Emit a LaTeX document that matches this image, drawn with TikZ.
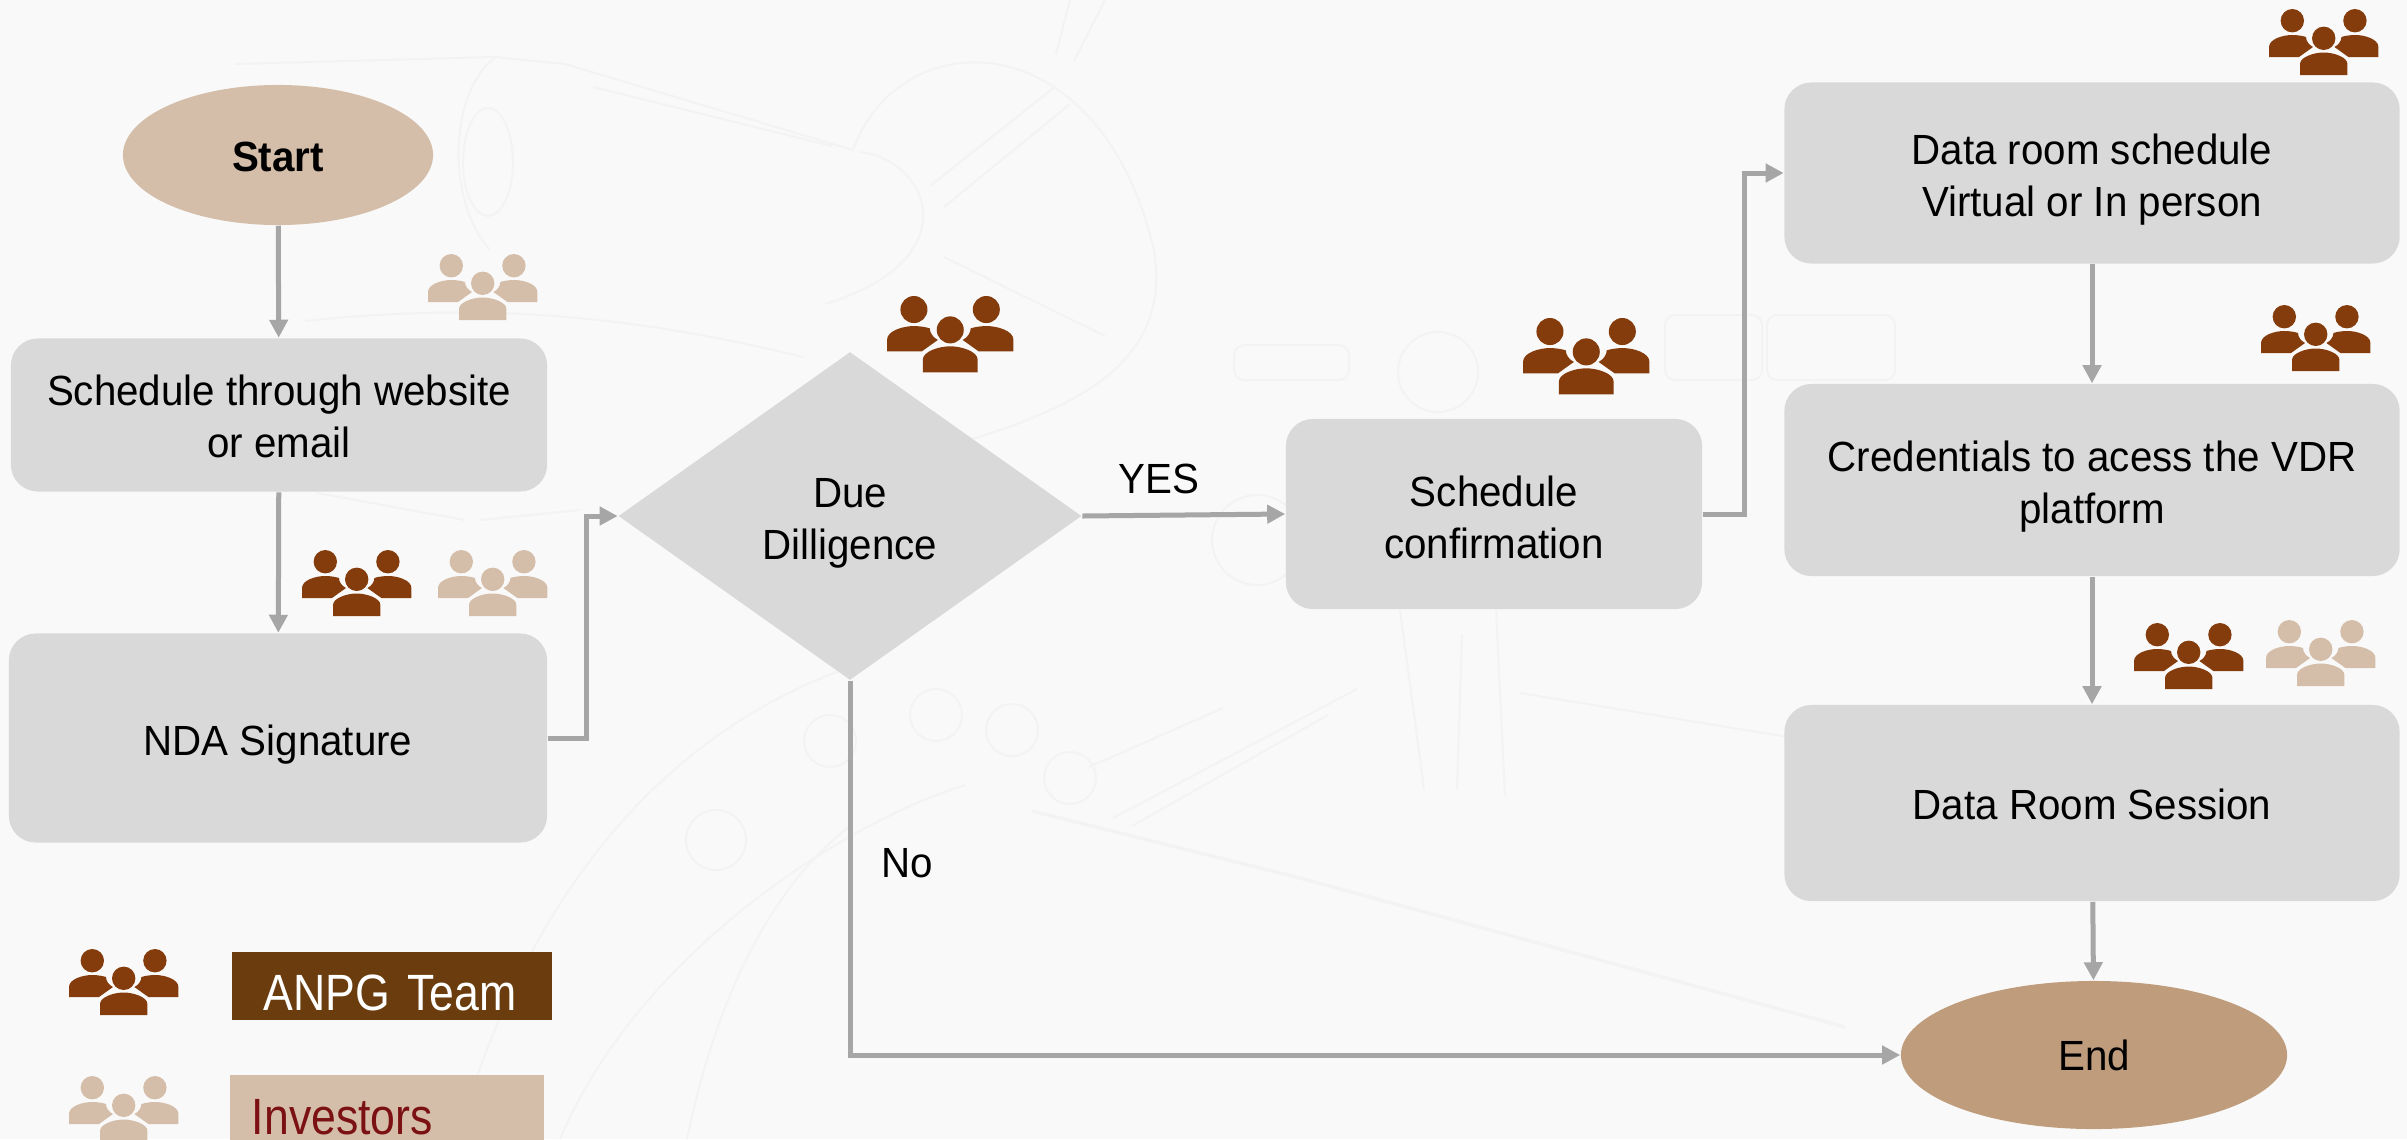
\documentclass[tikz,border=0pt]{standalone}
\usepackage{fontspec}
\setmainfont[FakeStretch=0.955]{Liberation Sans}
\newfontfamily\legendfont[FakeStretch=0.875]{Liberation Sans}
\usetikzlibrary{shapes.geometric,arrows.meta}

\definecolor{pagebg}{HTML}{F9F9F9}
\definecolor{sketchgrey}{HTML}{F3F3F3}
\definecolor{boxgrey}{HTML}{D9D9D9}
\definecolor{linegrey}{HTML}{A6A6A6}
\definecolor{anpgbrown}{HTML}{843C0C}
\definecolor{anpgrect}{HTML}{6B3D0E}
\definecolor{investortan}{HTML}{D5BEA9}
\definecolor{endtan}{HTML}{BE9C7C}
\definecolor{investorred}{HTML}{7B1113}

\tikzset{
  stepbox/.style={rectangle,rounded corners=0.27cm,fill=boxgrey,align=center,font=\fontsize{12}{14.8}\selectfont},
  flow/.style={draw=linegrey,line width=0.05cm,-{Triangle[length=0.18cm,width=0.18cm]}},
  sketch/.style={draw=sketchgrey,line width=0.02cm},
  people/.pic={
    \path[pic actions] (23.3,11.7) circle[radius=11.7] (85.9,11.7) circle[radius=11.7] (54.7,29.3) circle[radius=11.7];
    \path[pic actions] (0,48) -- (0,38) .. controls (0,30) and (14,26) .. (23,26) .. controls (29,26) and (34,27) .. (37,28) .. controls (37,32) and (40,36) .. (44,38) -- (30,48) -- cycle;
    \path[pic actions] (109.4,48) -- (109.4,38) .. controls (109.4,30) and (95.4,26) .. (86.4,26) .. controls (80.4,26) and (75.4,27) .. (72.4,28) .. controls (72.4,32) and (69.4,36) .. (65.4,38) -- (79.4,48) -- cycle;
    \path[pic actions] (31,66) -- (31,55) .. controls (31,48) and (45,43.5) .. (54.7,43.5) .. controls (64.4,43.5) and (78.4,48) .. (78.4,55) -- (78.4,66) -- cycle;
  }
}

\begin{document}
\begin{tikzpicture}[x=0.01cm,y=-0.01cm]
  \clip (0,0) rectangle (2407,1139);
  \fill[pagebg] (0,0) rectangle (2407,1139);

  % faint drawing behind the chart
  \draw[sketch] (495,58) .. controls (450,90) and (445,200) .. (490,250);
  \draw[sketch] (488,162) circle[x radius=25,y radius=54];
  \draw[sketch] (235,64) -- (495,57) -- (565,64) -- (853,150);
  \draw[sketch] (593,87) -- (832,146);
  \draw[sketch] (853,150) .. controls (900,20) and (1100,20) .. (1154,250) .. controls (1170,350) and (1100,400) .. (972,439);
  \draw[sketch] (930,186) -- (1056,86);
  \draw[sketch] (944,207) -- (1070,104);
  \draw[sketch] (860,152) .. controls (930,160) and (970,260) .. (825,304);
  \draw[sketch] (944,257) -- (1105,336);
  \draw[sketch] (305,321) .. controls (500,300) and (650,320) .. (803,357);
  \draw[sketch] (317,493) -- (465,520);
  \draw[sketch] (480,520) -- (580,510);
  \draw[sketch] (1070,0) -- (1056,54);
  \draw[sketch] (1105,0) -- (1074,61);
  \draw[sketch] (850,667) .. controls (700,720) and (540,850) .. (457,1139);
  \draw[sketch] (850,826) .. controls (780,880) and (720,980) .. (687,1139);
  \draw[sketch] (965,785) .. controls (850,820) and (640,950) .. (560,1139);
  \draw[sketch] (716,840) circle[radius=30] (936,715) circle[radius=26] (1012,730) circle[radius=26] (830,741) circle[radius=26] (1070,778) circle[radius=26];
  \draw[sketch] (1257,540) circle[radius=45] (1438,372) circle[radius=40];
  \draw[sketch,rounded corners=0.1cm] (1234,345) rectangle (1349,380);
  \draw[sketch,rounded corners=0.1cm] (1665,315) rectangle (1762,380);
  \draw[sketch,rounded corners=0.1cm] (1767,315) rectangle (1895,380);
  \draw[sketch] (1400,610) -- (1424,789);
  \draw[sketch] (1496,610) -- (1505,796);
  \draw[sketch] (1462,634) -- (1457,789);
  \draw[sketch] (1089,767) -- (1223,708);
  \draw[sketch] (1113,818) -- (1357,689);
  \draw[sketch] (1132,826) -- (1328,715);
  \draw[sketch] (1520,693) -- (1788,737);
  \draw[sketch,line width=0.035cm] (1032,811) -- (1108,830) -- (1300,878) -- (1472,925) -- (1845,1027);

  % main modules
  \node[ellipse,fill=investortan,minimum width=3.1cm,minimum height=1.4cm,text height=9.5pt,font=\fontsize{12}{14.8}\selectfont\bfseries] (start) at (278,155) {Start};
  \node[stepbox,text height=24.5pt,minimum width=5.36cm,minimum height=1.53cm] (website) at (279,415) {Schedule through website\\or email};
  \node[stepbox,text height=12.5pt,minimum width=5.38cm,minimum height=2.09cm] (nda) at (278,738) {NDA Signature};
  \node[diamond,fill=boxgrey,inner sep=0pt,text height=27pt,minimum width=4.63cm,minimum height=3.28cm,align=center,font=\fontsize{12}{14.8}\selectfont] (due) at (850,516) {Due\\Dilligence};
  \node[stepbox,text height=25.3pt,minimum width=4.16cm,minimum height=1.9cm] (confirm) at (1494,514) {Schedule\\confirmation};
  \node[stepbox,text height=27.3pt,minimum width=6.15cm,minimum height=1.81cm] (dataroom) at (2092,173) {Data room schedule\\Virtual or In person};
  \node[stepbox,text height=27.3pt,minimum width=6.15cm,minimum height=1.92cm] (vdr) at (2092,480) {Credentials to acess the VDR\\platform};
  \node[stepbox,text height=9.5pt,minimum width=6.15cm,minimum height=1.96cm] (session) at (2092,803) {Data Room Session};
  \node[ellipse,fill=endtan,minimum width=3.86cm,minimum height=1.48cm,font=\fontsize{12}{14.8}\selectfont] (finish) at (2094,1055) {End};

  % labels on the connectors
  \node[font=\fontsize{12}{14.8}\selectfont] (yes) at (1159,479) {YES};
  \node[font=\fontsize{12}{14.8}\selectfont] (no) at (907,863) {No};

  % connectors
  \draw[flow] (start) -- (website);
  \draw[flow] (website) -- (nda);
  \draw[flow] (nda.east) -- ++(39,0) |- (due.west);
  \draw[flow] (due.east) -- (confirm.west);
  \draw[flow] (confirm.east) -- ++(42,0) |- (dataroom.west);
  \draw[flow] (dataroom) -- (vdr);
  \draw[flow] (vdr) -- (session);
  \draw[flow] (session) -- (finish);
  \draw[flow] (due.south) |- (finish.west);

  % people icons
  \pic[fill=investortan] at (428,254) {people};
  \pic[fill=anpgbrown] at (302,550) {people};
  \pic[fill=investortan] at (438,550) {people};
  \pic[fill=anpgbrown,scale=1.156] at (887,296) {people};
  \pic[fill=anpgbrown,scale=1.156] at (1523,318) {people};
  \pic[fill=anpgbrown] at (2269,9) {people};
  \pic[fill=anpgbrown] at (2261,305) {people};
  \pic[fill=anpgbrown] at (2134,623) {people};
  \pic[fill=investortan] at (2266,620) {people};

  % legend
  \pic[fill=anpgbrown] at (69,949) {people};
  \pic[fill=investortan] at (69,1076) {people};
  \node[rectangle,fill=anpgrect,text=white,minimum width=3.2cm,minimum height=0.68cm,inner xsep=0.32cm,inner ysep=0pt,text width=2.56cm,text height=14pt,font=\legendfont\fontsize{14.5}{17}\selectfont] (anpglabel) at (392,986) {ANPG Team};
  \node[rectangle,fill=investortan,text=investorred,minimum width=3.14cm,minimum height=0.84cm,inner xsep=0.22cm,text width=2.7cm,font=\legendfont\fontsize{14.5}{17}\selectfont] (investorlabel) at (387,1117) {Investors};
\end{tikzpicture}
\end{document}
